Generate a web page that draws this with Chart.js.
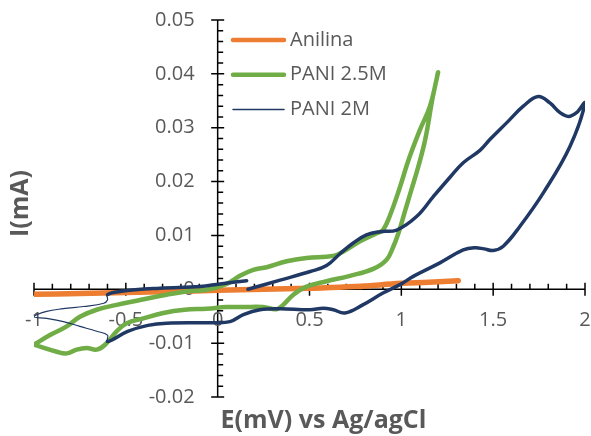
<!DOCTYPE html>
<html>
<head>
<meta charset="utf-8">
<script src="https://cdn.jsdelivr.net/npm/chart.js@4.4.1/dist/chart.umd.min.js"></script>
<style>
    body { margin: 0; background: #fff; }
    canvas { display: block; }
</style>
</head>
<body>
<canvas id="chartVoltametria" width="591" height="436"></canvas>
<script>
// Datos (E en mV, I en mA)
const nombresSeries = ['Anilina', 'PANI 2.5M', 'PANI 2M'];
const tituloX = 'E(mV) vs Ag/agCl';
const tituloY = 'I(mA)';

const anilinaE = [-1, -0.75, -0.5, -0.25, 0, 0.25, 0.5, 0.75, 1, 1.15, 1.31];
const anilinaI = [-0.0009, -0.0008, -0.0006, -0.0004, -0.0002, 0, 0.0002, 0.0005, 0.0011, 0.0013, 0.0016];

const pani25E = [-1.0, -0.913, -0.822, -0.75, -0.659, -0.55, -0.423, -0.278, -0.169, -0.06, 0.049, 0.121, 0.194, 0.267, 0.376, 0.484, 0.629, 0.684, 0.775, 0.866, 0.9, 0.938, 0.99, 1.04, 1.1, 1.156, 1.2,
    1.17, 1.13, 1.09, 1.055, 1.02, 0.985, 0.955, 0.92, 0.847, 0.72, 0.593, 0.484, 0.412, 0.357, 0.321, 0.248, 0.139, 0.049, -0.06, -0.18, -0.296, -0.405, -0.495, -0.55, -0.613, -0.659, -0.713, -0.768, -0.822, -0.876, -1.0];
const pani25I = [-0.0103, -0.0085, -0.0069, -0.0051, -0.0038, -0.0029, -0.002, -0.001, -0.0004, -0.0001, 0.001, 0.0025, 0.0036, 0.0041, 0.0052, 0.0058, 0.0062, 0.007, 0.0089, 0.0104, 0.011, 0.0137, 0.0187, 0.0241, 0.0295, 0.034, 0.0403,
    0.0355, 0.0278, 0.0225, 0.0185, 0.0145, 0.0105, 0.0078, 0.0055, 0.0038, 0.0025, 0.0015, 0.0005, -0.001, -0.0029, -0.0037, -0.0033, -0.0033, -0.0033, -0.0036, -0.0038, -0.0044, -0.0054, -0.0063, -0.0078, -0.0103, -0.0112, -0.0109, -0.0112, -0.0119, -0.0116, -0.0103];

const pani2E = [0.165, 0.34, 0.504, 0.593, 0.666, 0.738, 0.81, 0.884, 0.975, 1.083, 1.174, 1.265, 1.337, 1.428, 1.482, 1.573, 1.664, 1.745, 1.809, 1.864, 1.909, 1.954, 2.0,
    1.918, 1.773, 1.646, 1.555, 1.5, 1.45, 1.4, 1.337, 1.21, 1.065, 1.0, 0.9, 0.79, 0.693, 0.63, 0.575, 0.502, 0.34, 0.23, 0.14, 0.067, -0.024, -0.278, -0.38, -0.49, -0.6,
    -0.6, -0.659, -0.75, -0.84, -0.931, -1.0, -0.931, -0.84, -0.73, -0.62, -0.6, -0.6,
    -0.532, -0.314, -0.096, 0.0125, 0.158];
const pani2I = [0.0, 0.0017, 0.0033, 0.0044, 0.0066, 0.0086, 0.0101, 0.0107, 0.011, 0.0135, 0.0172, 0.0208, 0.0235, 0.0258, 0.0278, 0.0309, 0.034, 0.0358, 0.0346, 0.0328, 0.0321, 0.0328, 0.0346,
    0.0265, 0.0179, 0.0117, 0.008, 0.0072, 0.0075, 0.0077, 0.0073, 0.0049, 0.0024, 0.001, -0.0007, -0.0029, -0.0044, -0.0038, -0.0035, -0.0038, -0.0036, -0.0038, -0.0047, -0.006, -0.0062, -0.0063, -0.0067, -0.0078, -0.0097,
    -0.0085, -0.0078, -0.0069, -0.006, -0.0054, -0.0051, -0.0041, -0.0036, -0.0032, -0.0026, -0.002, -0.001,
    -0.0004, 0.0002, 0.0005, 0.001, 0.0016];

const ejeXMin = -1, ejeXMax = 2, ejeXPaso = 0.5;
const ejeYMin = -0.02, ejeYMax = 0.05, ejeYPaso = 0.01;

function puntos(xs, ys) {
    return xs.map((x, i) => ({ x: x, y: ys[i] }));
}

const colorTexto = '#595959';
const fuente = '"Open Sans", "Liberation Sans", sans-serif';

// Ejes cruzados en el origen, con marcas mayores y menores como en Excel
const ejesCentrados = {
    id: 'ejesCentrados',
    beforeDatasetsDraw(chart) {
        const { ctx, chartArea, scales: { x, y } } = chart;
        const x0 = x.getPixelForValue(0);
        const y0 = y.getPixelForValue(0);
        ctx.save();
        ctx.strokeStyle = '#000';
        ctx.lineWidth = 1.5;
        ctx.beginPath();
        ctx.moveTo(x.left, y0); ctx.lineTo(x.right, y0);
        ctx.moveTo(x0, y.top); ctx.lineTo(x0, y.bottom);
        x.ticks.forEach((t, i) => {
            const px = x.getPixelForValue(t.value);
            ctx.moveTo(px, y0 - 6.5); ctx.lineTo(px, y0 + 6.5);
            const sig = x.ticks[i + 1];
            if (sig) {
                for (let k = 1; k < 5; k++) {
                    const pm = x.getPixelForValue(t.value + (sig.value - t.value) * k / 5);
                    ctx.moveTo(pm, y0); ctx.lineTo(pm, y0 - 5.5);
                }
            }
        });
        y.ticks.forEach((t, i) => {
            const py = y.getPixelForValue(t.value);
            ctx.moveTo(x0 - 6.5, py); ctx.lineTo(x0 + 6.5, py);
            const sig = y.ticks[i + 1];
            if (sig) {
                for (let k = 1; k < 5; k++) {
                    const pm = y.getPixelForValue(t.value + (sig.value - t.value) * k / 5);
                    ctx.moveTo(x0, pm); ctx.lineTo(x0 + 5.5, pm);
                }
            }
        });
        ctx.stroke();

        ctx.fillStyle = colorTexto;
        ctx.font = '20px ' + fuente;
        ctx.textBaseline = 'middle';
        ctx.textAlign = 'center';
        x.ticks.forEach(t => ctx.fillText(t.label, x.getPixelForValue(t.value), y0 + 31));
        ctx.textAlign = 'right';
        y.ticks.forEach(t => ctx.fillText(t.label, x0 - 23, y.getPixelForValue(t.value)));

        // titulos de los ejes
        ctx.font = 'bold 25px ' + fuente;
        ctx.textAlign = 'center';
        ctx.fillText(tituloX, (chartArea.left + chartArea.right) / 2 + 14, 421);
        ctx.translate(21, (chartArea.top + chartArea.bottom) / 2 - 5);
        ctx.rotate(-Math.PI / 2);
        ctx.fillText(tituloY, 0, 0);
        ctx.restore();
    },
    afterDraw(chart) {
        const { ctx } = chart;
        ctx.save();
        ctx.font = '20px ' + fuente;
        ctx.textBaseline = 'middle';
        ctx.textAlign = 'left';
        ctx.lineCap = 'round';
        chart.data.datasets.forEach((ds, i) => {
            const ly = 40 + i * 34.7;
            ctx.strokeStyle = ds.borderColor;
            ctx.lineWidth = ds.leyendaAncho;
            ctx.beginPath();
            ctx.moveTo(233, ly); ctx.lineTo(284, ly);
            ctx.stroke();
            ctx.fillStyle = colorTexto;
            ctx.fillText(ds.label, 290, ly);
        });
        ctx.restore();
    }
};

const ctx = document.getElementById('chartVoltametria').getContext('2d');
new Chart(ctx, {
    type: 'scatter',
    data: {
        datasets: [
            {
                label: nombresSeries[0],
                data: puntos(anilinaE, anilinaI),
                borderColor: '#ED7D31',
                borderWidth: 5.5,
                leyendaAncho: 4.5,
                showLine: true,
                order: 2
            },
            {
                label: nombresSeries[1],
                data: puntos(pani25E, pani25I),
                borderColor: '#70AD47',
                borderWidth: 4.5,
                leyendaAncho: 4.5,
                showLine: true,
                order: 1
            },
            {
                label: nombresSeries[2],
                data: puntos(pani2E, pani2I),
                borderColor: '#203864',
                borderWidth: 1.2,
                leyendaAncho: 1.5,
                showLine: true,
                order: 0,
                segment: {
                    borderWidth: c => (c.p0.parsed.x <= -0.599 && c.p1.parsed.x <= -0.599) ? 1.2 : 3.5
                }
            }
        ]
    },
    options: {
        responsive: false,
        animation: false,
        layout: { padding: { left: 34, right: 6, top: 20, bottom: 39 } },
        elements: {
            point: { radius: 0, hoverRadius: 0 },
            line: { tension: 0.4, borderCapStyle: 'round', borderJoinStyle: 'round' }
        },
        plugins: {
            legend: { display: false },
            tooltip: { enabled: false }
        },
        scales: {
            x: {
                type: 'linear',
                min: ejeXMin,
                max: ejeXMax,
                position: { y: 0 },
                ticks: { stepSize: ejeXPaso, display: false, callback: v => String(v) },
                grid: { display: false },
                border: { display: false }
            },
            y: {
                type: 'linear',
                min: ejeYMin,
                max: ejeYMax,
                position: { x: 0 },
                ticks: { stepSize: ejeYPaso, display: false, callback: v => String(v) },
                grid: { display: false },
                border: { display: false }
            }
        }
    },
    plugins: [ejesCentrados]
});
</script>
</body>
</html>
